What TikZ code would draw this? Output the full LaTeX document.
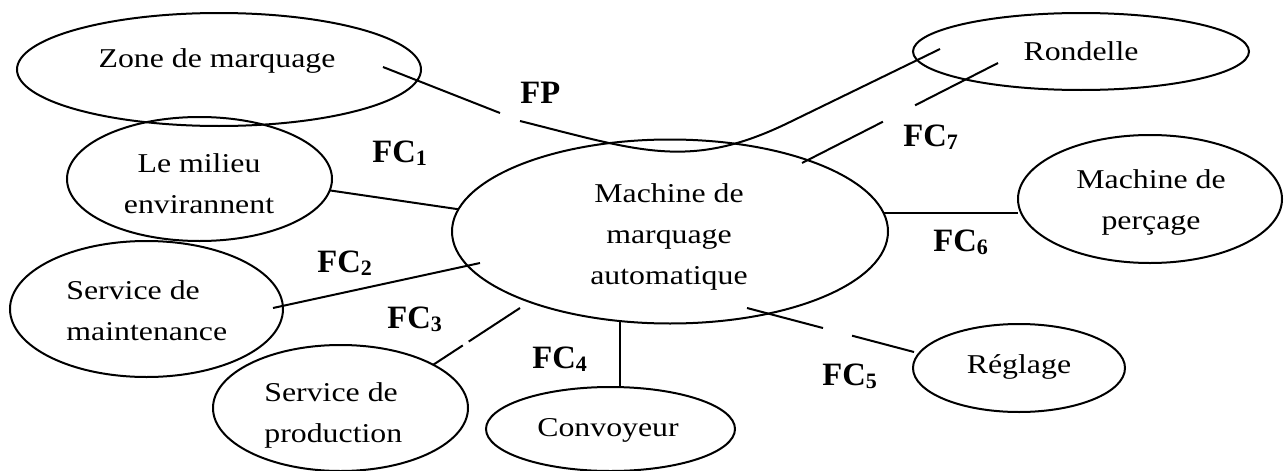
\documentclass[tikz,border=0pt]{standalone}
\usepackage{fontspec}
\setmainfont{Liberation Serif}
\newfontfamily\ellfont{Liberation Serif}[FakeStretch=1.17]
\usetikzlibrary{shapes.geometric,calc}
\newcommand\fcsub[1]{\raisebox{-1.5pt}{\fontsize{11}{12}\selectfont #1}}

\begin{document}
\begin{tikzpicture}[x=0.5pt,y=-0.5pt,
  ent/.style={draw,ellipse,line width=1pt,inner sep=0pt,outer sep=0pt},
  etxt/.style={inner sep=0pt,font=\ellfont\fontsize{13.6}{20.5}\selectfont},
  fclab/.style={inner sep=0pt,anchor=base west,font=\bfseries\fontsize{16.3}{19}\selectfont},
  link/.style={line width=1pt}]
\useasboundingbox (0,0) rectangle (1285,471);

% entities
\node[ent,minimum width=202pt,minimum height=56.5pt] (zone) at (219,69.5) {};
\node[ent,minimum width=132.5pt,minimum height=62pt] (milieu) at (199.5,179) {};
\node[ent,minimum width=136.5pt,minimum height=68pt] (maint) at (146.5,309) {};
\node[ent,minimum width=127.5pt,minimum height=63pt] (prod) at (340.5,408) {};
\node[ent,minimum width=124.5pt,minimum height=42pt] (conv) at (610.5,429) {};
\node[ent,minimum width=218pt,minimum height=92pt] (main) at (670,231.5) {};
\node[ent,minimum width=168pt,minimum height=38.5pt] (rond) at (1081,51.5) {};
\node[ent,minimum width=132pt,minimum height=64pt] (perc) at (1150,199) {};
\node[ent,minimum width=106pt,minimum height=44pt] (regl) at (1019,368) {};

% entity names
\node[etxt,anchor=base] (zoneT) at (217,67) {Zone de marquage};
\node[etxt,anchor=base] (milieuT) at (199,172) {\begin{tabular}[t]{@{}c@{}}Le milieu\\envirannent\end{tabular}};
\node[etxt,anchor=base west] (maintT) at (66,299) {\begin{tabular}[t]{@{}l@{}}Service de\\maintenance\end{tabular}};
\node[etxt,anchor=base west] (prodT) at (264,401.5) {\begin{tabular}[t]{@{}l@{}}Service de\\production\end{tabular}};
\node[etxt,anchor=base] (convT) at (608,436) {Convoyeur};
\node[etxt,anchor=base] (mainT) at (669,202) {\begin{tabular}[t]{@{}c@{}}Machine de\\marquage\\automatique\end{tabular}};
\node[etxt,anchor=base] (rondT) at (1081,61) {Rondelle};
\node[etxt,anchor=base] (percT) at (1151,188) {\begin{tabular}[t]{@{}c@{}}Machine de\\perçage\end{tabular}};
\node[etxt,anchor=base] (reglT) at (1019,373) {Réglage};

% free ends of the links
\coordinate (fpA) at (383,67);
\coordinate (fpB) at (500,113);
\coordinate (fpC) at (520,121);
\coordinate (fpK) at (790,122);
\coordinate (fpD) at (940,49);
\coordinate (fc2a) at (273,308);
\coordinate (fc2b) at (480,263);
\coordinate (fc3b) at (520,308);
\coordinate (fc5a) at (747,308);
\coordinate (fc5b) at (914,352);
\coordinate (fc7a) at (802,163);
\coordinate (fc7b) at (998,63);

% links
\draw[link] (fpA) -- (fpB);
\draw[link] (fpC) .. controls (640,151) and (690,171) .. (fpK) -- (fpD);
\draw[link] (milieu.-5.7) -- (main.174.2);
\draw[link] (fc2a) -- (fc2b);
\draw[link] (prod.25.2) -- ($(prod.25.2)!0.341!(fc3b)$)
            ($(prod.25.2)!0.409!(fc3b)$) -- (fc3b);
\draw[link] (main.-119.2) -- (main.-119.2 |- conv.north);
\draw[link] (fc5a) -- ($(fc5a)!0.455!(fc5b)$)
            ($(fc5a)!0.629!(fc5b)$) -- (fc5b);
\draw[link] (main.5.71) -- (main.5.71 -| perc.west);
\draw[link] (fc7a) -- ($(fc7a)!0.413!(fc7b)$)
            ($(fc7a)!0.577!(fc7b)$) -- (fc7b);

% function labels
\node[fclab] (fp) at (520,103) {FP};
\node[fclab] (fc1) at (372,162) {FC\fcsub{1}};
\node[fclab] (fc2) at (317,272) {FC\fcsub{2}};
\node[fclab] (fc3) at (387,328) {FC\fcsub{3}};
\node[fclab] (fc4) at (532,368) {FC\fcsub{4}};
\node[fclab] (fc5) at (822,385) {FC\fcsub{5}};
\node[fclab] (fc6) at (933,251) {FC\fcsub{6}};
\node[fclab] (fc7) at (903,146) {FC\fcsub{7}};
\end{tikzpicture}
\end{document}
